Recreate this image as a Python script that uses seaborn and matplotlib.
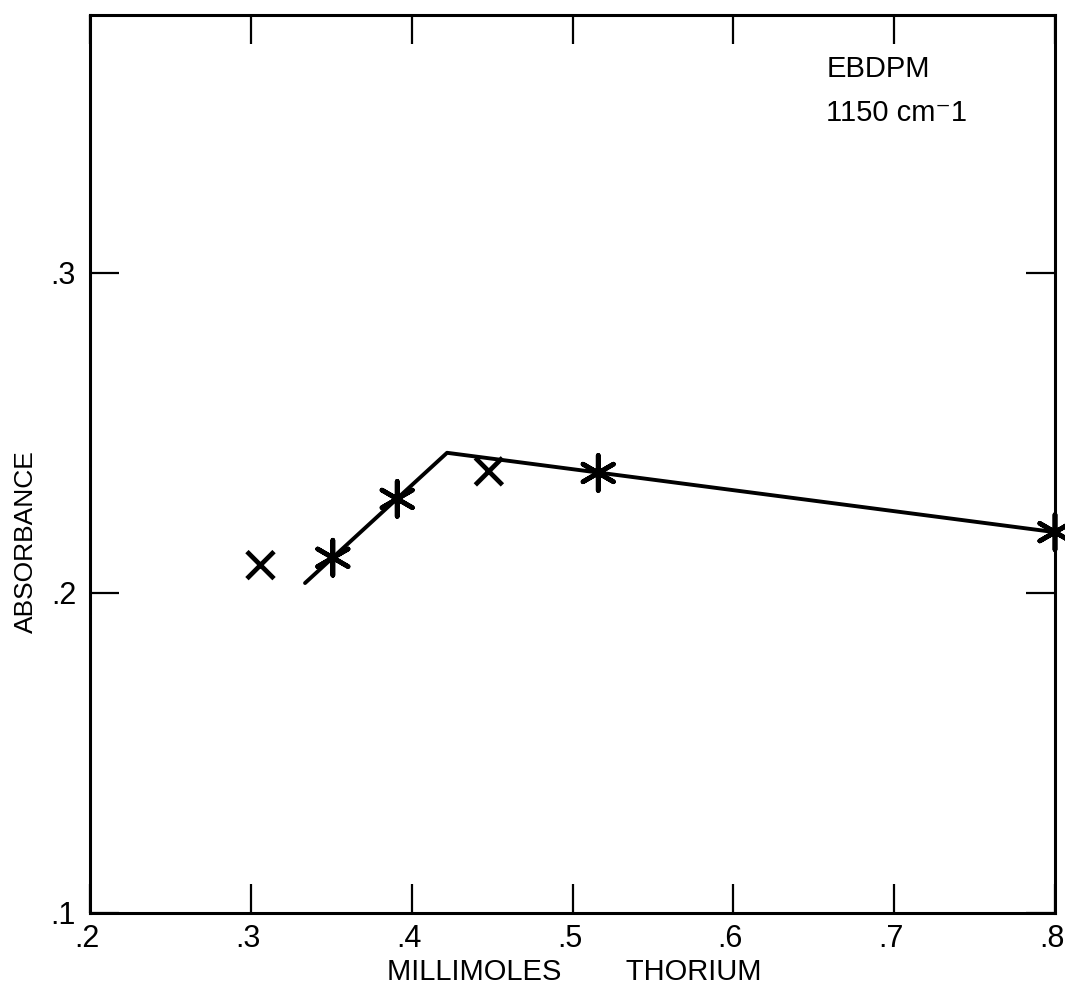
import matplotlib
matplotlib.use("Agg")
import matplotlib.pyplot as plt
import matplotlib.transforms as mtransforms
import seaborn as sns
import pandas as pd

# Measured absorbance points (millimoles thorium vs absorbance)
thorium = [0.306, 0.351, 0.391, 0.448, 0.516, 0.800]
absorbance = [0.2087, 0.2110, 0.2294, 0.2380, 0.2375, 0.2190]
mark_kind = ["cross", "star", "star", "cross", "star", "star"]

# Two-segment fitted line with the break point
fit_x = [0.3337, 0.4220, 0.8000]
fit_y = [0.2031, 0.2438, 0.2190]

x_ticks = [0.2, 0.3, 0.4, 0.5, 0.6, 0.7, 0.8]
x_tick_labels = [".2", ".3", ".4", ".5", ".6", ".7", ".8"]
y_ticks = [0.1, 0.2, 0.3]
y_tick_labels = [".1", ".2", ".3"]

sns.set_theme(style="ticks")
plt.rcParams["font.family"] = ["Liberation Sans", "DejaVu Sans"]

fig = plt.figure(figsize=(10.65, 9.89), dpi=100)
ax = fig.add_axes([90 / 1065, 76 / 989, 965 / 1065, 898 / 989])

pts = pd.DataFrame({"x": thorium, "y": absorbance, "kind": mark_kind})
fit = pd.DataFrame({"x": fit_x, "y": fit_y})

sns.lineplot(data=fit, x="x", y="y", ax=ax, color="black", lw=2.8,
             sort=False, estimator=None, clip_on=False)
sns.scatterplot(data=pts, x="x", y="y", style="kind", size="kind", ax=ax,
                markers={"cross": "x", "star": (6, 2, 0)},
                sizes={"cross": 380, "star": 640},
                color="black", linewidth=3.4, legend=False,
                clip_on=False, zorder=5)

ax.set_xlim(0.2, 0.8)
ax.set_ylim(0.1, 0.3806)
ax.set_xticks(x_ticks)
ax.set_xticklabels(x_tick_labels)
ax.set_yticks(y_ticks)
ax.set_yticklabels(y_tick_labels)

ax.tick_params(axis="both", direction="in", length=21, width=1.6,
               labelsize=22, colors="black", top=True, right=True)
ax.tick_params(axis="x", pad=8)
ax.tick_params(axis="y", pad=10)
for side in ax.spines.values():
    side.set_linewidth(2.2)
    side.set_color("black")

# nudge x tick labels so the digit sits under its tick
shift = mtransforms.ScaledTranslation(-3 / 100, 0, fig.dpi_scale_trans)
for lbl in ax.get_xticklabels():
    lbl.set_transform(lbl.get_transform() + shift)

ax.set_xlabel("MILLIMOLES        THORIUM", fontsize=21, color="black")
ax.set_ylabel("ABSORBANCE", fontsize=19, color="black")
ax.xaxis.set_label_coords(0.5016, -0.050)
ax.yaxis.set_label_coords(-0.054, 0.414)

ax.text(0.763, 0.9395, "EBDPM", transform=ax.transAxes, fontsize=21,
        color="black", va="center", ha="left")
ax.text(0.763, 0.891, "1150 cm\u207b1", transform=ax.transAxes, fontsize=21,
        color="black", va="center", ha="left")

fig.savefig("out.png", dpi=100, facecolor="white")
